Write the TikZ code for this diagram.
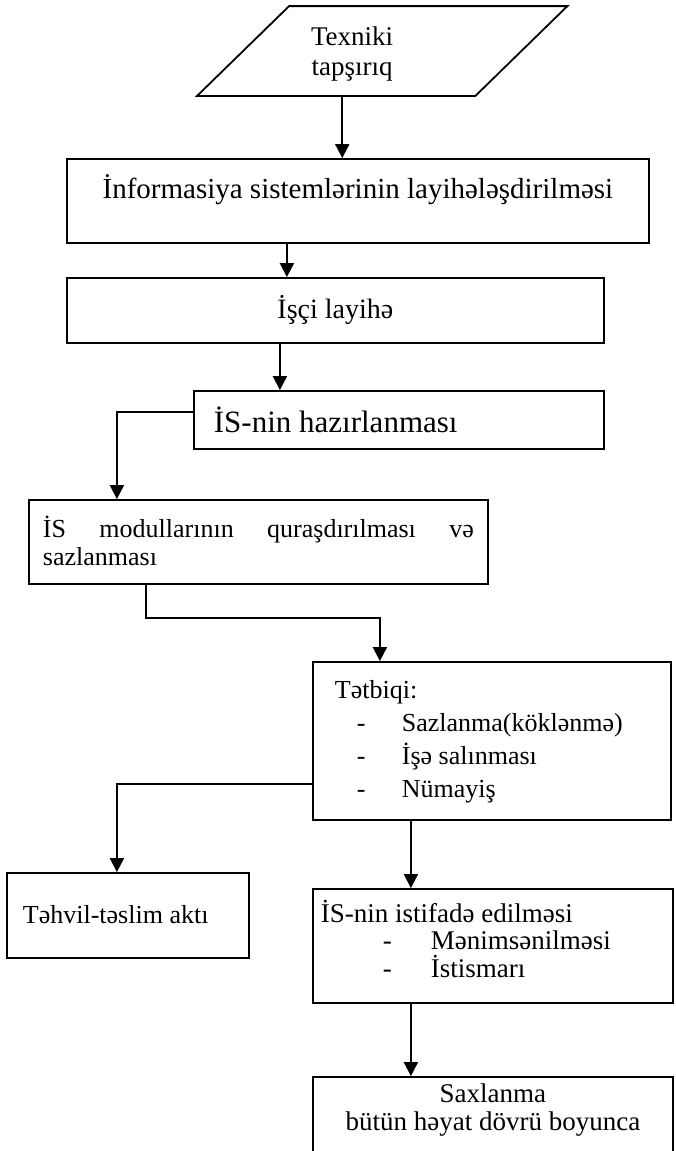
\documentclass[tikz,border=0pt]{standalone}
\usepackage{fontspec}
\setmainfont{Liberation Serif}
\usetikzlibrary{arrows.meta}
\newcommand\dashitem[3]{\hspace*{#1}\makebox[#2][l]{-}#3}
\begin{document}
\begin{tikzpicture}[x=0.5pt, y=-0.5pt, line width=0.9pt,
    box/.style = {draw, anchor=base west, inner ysep=0pt},
    arr/.style = {-{Triangle[width=7pt,length=7pt]}}]
          \useasboundingbox (0,0) rectangle (675,1151);
          \node[minimum width=138.25pt, minimum height=44pt, inner sep=0pt,
                label={[xshift=-15.1pt, yshift=-1.5pt, align=center, font=\fontsize{13.5}{15}\selectfont]center:Texniki\\tapşırıq}] (task) at (382.25,51) {};
          \draw ([xshift=23pt]task.north west) -- ([xshift=23pt]task.north east)
             -- ([xshift=-23pt]task.south east) -- ([xshift=-23pt]task.south west) -- cycle;
          \node[box, inner xsep=0pt, minimum width=291pt, text height=19.5pt, text depth=22.5pt,
                font=\fontsize{14.5}{17}\selectfont] (info) at (66,198) {İnformasiya sistemlərinin layihələşdirilməsi};
          \node[box, inner xsep=0pt, minimum width=268.5pt, text height=20pt, text depth=12.5pt,
                font=\fontsize{14}{16}\selectfont] (work) at (66,318) {İşçi layihə};
          \node[box, inner xsep=10pt, text height=20.5pt, text depth=8.5pt,
                font=\fontsize{15.5}{18}\selectfont] (prep) at (193,432) {\parbox[t]{185pt}{İS-nin hazırlanması}};
          \node[box, inner xsep=7pt, text height=18.5pt, text depth=23.5pt,
                font=\fontsize{13}{14}\selectfont] (mods) at (28,537)
                {\parbox[t]{215.5pt}{\hbox to\linewidth{İS\hfill modullarının\hfill quraşdırılması\hfill və}\par sazlanması}};
          \node[box, inner xsep=11pt, text height=18pt, text depth=61pt,
                font=\fontsize{13}{16.6}\selectfont] (apply) at (312,698)
                {\parbox[t]{157pt}{Tətbiqi:\\
                 \dashitem{11pt}{22.5pt}{Sazlanma(köklənmə)}\\
                 \dashitem{11pt}{22.5pt}{İşə salınması}\\
                 \dashitem{11pt}{22.5pt}{Nümayiş}}};
          \node[box, inner xsep=8pt, text height=25pt, text depth=17.5pt,
                font=\fontsize{13}{15}\selectfont] (act) at (6,923) {\parbox[t]{105pt}{Təhvil-təslim aktı}};
          \node[box, inner xsep=4pt, text height=16.5pt, text depth=40.5pt,
                font=\fontsize{13.5}{13.75}\selectfont] (use) at (312,922)
                {\parbox[t]{172pt}{İS-nin istifadə edilməsi\\
                 \dashitem{31pt}{24pt}{Mənimsənilməsi}\\
                 \dashitem{31pt}{24pt}{İstismarı}}};
          \node[box, inner xsep=0pt, text height=12.5pt, text depth=31.5pt,
                font=\fontsize{13.5}{14}\selectfont] (store) at (312,1102)
                {\parbox[t]{180pt}{\centering Saxlanma\\bütün həyat dövrü boyunca}};
          \draw[arr] ([xshift=-20pt]task.south) -- ([xshift=-20pt]task.south |- info.north);
          \draw[arr] ([xshift=-35.5pt]info.south) -- ([xshift=-35.5pt]info.south |- work.north);
          \draw[arr] ([xshift=-27.75pt]work.south) -- ([xshift=-27.75pt]work.south |- prep.north);
          \draw[arr] ([yshift=4pt]prep.west) -| ([xshift=-70.75pt]mods.north);
          \draw[arr] ([xshift=-56.25pt]mods.south) -- ++(0,33) -| ([xshift=-56pt]apply.north);
          \draw[arr] ([yshift=-21.5pt]apply.west) -| ([xshift=-5.5pt]act.north);
          \draw[arr] ([xshift=-40.5pt]apply.south) -- ([xshift=-40.5pt]apply.south |- use.north);
          \draw[arr] ([xshift=-41pt]use.south) -- ([xshift=-41pt]use.south |- store.north);
        \end{tikzpicture}
\end{document}
